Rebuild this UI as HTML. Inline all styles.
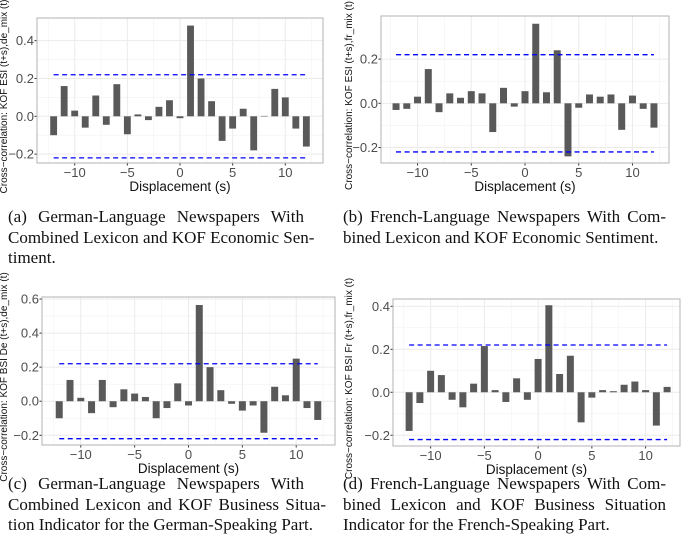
<!DOCTYPE html>
<html><head><meta charset="utf-8"><style>
body{margin:0;background:#fff;width:685px;height:533px;overflow:hidden;position:relative;font-family:"Liberation Sans",sans-serif}
.cap{position:absolute;font-family:"Liberation Serif",serif;font-size:17px;color:#111;line-height:20.5px}
.cap div{text-align:justify;text-align-last:justify;white-space:nowrap}
.cap div.last{text-align-last:left}
svg{position:absolute;left:0;top:0}
</style></head><body>
<svg id="chart" width="685" height="533"></svg>
<div class="cap" style="left:8px;top:207px;width:296px">
<div>(a) German-Language Newspapers With</div><div style="width:304px">Combined Lexicon and KOF Economic Sen-</div><div class="last">timent.</div></div>
<div class="cap" style="left:343px;top:207px;width:323px">
<div>(b) French-Language Newspapers With Com-</div><div class="last">bined Lexicon and KOF Economic Sentiment.</div></div>
<div class="cap" style="left:8px;top:474px;width:318px">
<div style="width:296px">(c) German-Language Newspapers With</div><div>Combined Lexicon and KOF Business Situa-</div><div class="last">tion Indicator for the German-Speaking Part.</div></div>
<div class="cap" style="left:343px;top:474px;width:323px">
<div>(d) French-Language Newspapers With Com-</div><div>bined Lexicon and KOF Business Situation</div><div class="last">Indicator for the French-Speaking Part.</div></div>
<script>
const lags=[-12,-11,-10,-9,-8,-7,-6,-5,-4,-3,-2,-1,0,1,2,3,4,5,6,7,8,9,10,11,12];
const valuesA=[-0.10,0.16,0.03,-0.06,0.11,-0.045,0.17,-0.095,0.01,-0.02,0.05,0.085,-0.01,0.48,0.20,0.08,-0.13,-0.065,0.04,-0.18,0.002,0.145,0.10,-0.065,-0.16];
const valuesB=[-0.03,-0.025,0.03,0.155,-0.04,0.045,0.025,0.055,0.045,-0.13,0.07,-0.015,0.055,0.36,0.05,0.24,-0.24,-0.02,0.04,0.03,0.04,-0.12,0.035,-0.025,-0.11];
const valuesC=[-0.10,0.125,0.02,-0.07,0.125,-0.035,0.07,0.045,0.025,-0.10,-0.04,0.105,-0.025,0.565,0.20,0.065,-0.015,-0.055,-0.025,-0.185,0.085,0.035,0.25,-0.04,-0.11];
const valuesD=[-0.18,-0.05,0.10,0.08,-0.035,-0.07,0.04,0.215,0.01,-0.045,0.065,-0.035,0.155,0.405,0.085,0.17,-0.14,-0.025,0.01,0.005,0.035,0.05,0.01,-0.155,0.025];
const xTicks=[-10,-5,0,5,10];
const yTicksA=[-0.2,0.0,0.2,0.4];
const yTicksB=[-0.2,0.0,0.2];
const yTicksC=[-0.2,0.0,0.2,0.4,0.6];
const yTicksD=[-0.2,0.0,0.2,0.4];
const confLimit=0.22;
const yTitles=["Cross\u2212correlation: KOF ESI (t+s),de_mix (t)","Cross\u2212correlation: KOF ESI (t+s),fr_mix (t)","Cross\u2212correlation: KOF BSI De (t+s),de_mix (t)","Cross\u2212correlation: KOF BSI Fr (t+s),fr_mix (t)"];
const panels=[
 {id:'a',vals:valuesA,ticks:yTicksA,L:37,R:323,T:18,B:163,ymin:-0.247,ymax:0.52,xmin:-13.58,xmax:13.58},
 {id:'b',vals:valuesB,ticks:yTicksB,L:381,R:669,T:16,B:163,ymin:-0.27,ymax:0.395,xmin:-13.4,xmax:13.4},
 {id:'c',vals:valuesC,ticks:yTicksC,L:42,R:335,T:297,B:445,ymin:-0.257,ymax:0.612,xmin:-13.6,xmax:13.6},
 {id:'d',vals:valuesD,ticks:yTicksD,L:393,R:680,T:299,B:446,ymin:-0.25,ymax:0.434,xmin:-13.5,xmax:13.2}];
const svg=document.getElementById('chart');const NS='http://www.w3.org/2000/svg';
function mk(t,a,p){const e=document.createElementNS(NS,t);for(const k in a)e.setAttribute(k,a[k]);p.appendChild(e);return e;}
panels.forEach((P,pi)=>{
 const g=mk('g',{},svg);
 
 
 const xs=v=>P.L+(v-P.xmin)/(P.xmax-P.xmin)*(P.R-P.L);
 const ys=v=>P.B-(v-P.ymin)/(P.ymax-P.ymin)*(P.B-P.T);
 mk('rect',{x:P.L,y:P.T,width:P.R-P.L,height:P.B-P.T,fill:'#fff'},g);
 for(let v=-12.5;v<=12.5;v+=5){mk('line',{x1:xs(v),x2:xs(v),y1:P.T,y2:P.B,stroke:'#f2f2f2','stroke-width':0.6},g);}
 for(let i=0;i<P.ticks.length-1;i++){const v=(P.ticks[i]+P.ticks[i+1])/2;mk('line',{x1:P.L,x2:P.R,y1:ys(v),y2:ys(v),stroke:'#f2f2f2','stroke-width':0.6},g);}
 xTicks.forEach(v=>{mk('line',{x1:xs(v),x2:xs(v),y1:P.T,y2:P.B,stroke:'#ebebeb','stroke-width':1},g);
  const t=mk('text',{x:xs(v),y:P.B+14,'text-anchor':'middle','font-size':13,fill:'#4d4d4d'},g);t.textContent=(v<0?'\u2212'+(-v):v);
  
  mk('line',{x1:xs(v),x2:xs(v),y1:P.B,y2:P.B+2.5,stroke:'#333'},g);});
 P.ticks.forEach(v=>{mk('line',{x1:P.L,x2:P.R,y1:ys(v),y2:ys(v),stroke:'#ebebeb','stroke-width':1},g);
  const t=mk('text',{x:P.L-3,y:ys(v)+4.5,'text-anchor':'end','font-size':13,fill:'#4d4d4d'},g);t.textContent=(v<0?'\u2212'+(-v).toFixed(1):v.toFixed(1));
  
  mk('line',{x1:P.L-2.5,x2:P.L,y1:ys(v),y2:ys(v),stroke:'#333'},g);});
 const bw=(xs(1)-xs(0))*0.65;
 lags.forEach((lag,i)=>{const v=P.vals[i];const y0=ys(0),y1=ys(v);
  const r=mk('rect',{x:xs(lag)-bw/2,y:Math.min(y0,y1),width:bw,height:Math.max(0.5,Math.abs(y1-y0)),fill:'#595959'},g);
  });
 [confLimit,-confLimit].forEach(c=>{const l=mk('line',{x1:xs(-12),x2:xs(12),y1:ys(c),y2:ys(c),stroke:'#0000ff','stroke-width':1.3,'stroke-dasharray':'5,3.5'},g);
  });
 mk('rect',{x:P.L,y:P.T,width:P.R-P.L,height:P.B-P.T,fill:'none',stroke:'#b3b3b3','stroke-width':1},g);
 const xt=mk('text',{x:(P.L+P.R)/2,y:P.B+28,'text-anchor':'middle','font-size':13.5,fill:'#111'},g);xt.textContent='Displacement (s)';
 
 const cy=(P.T+P.B)/2+6, cx=(pi%2==0?7:352);
 const yt=mk('text',{x:cx,y:cy,'text-anchor':'middle','font-size':10,fill:'#111',transform:'rotate(-90 '+cx+' '+cy+')'},g);yt.textContent=yTitles[pi];
 
});
</script>
</body></html>
